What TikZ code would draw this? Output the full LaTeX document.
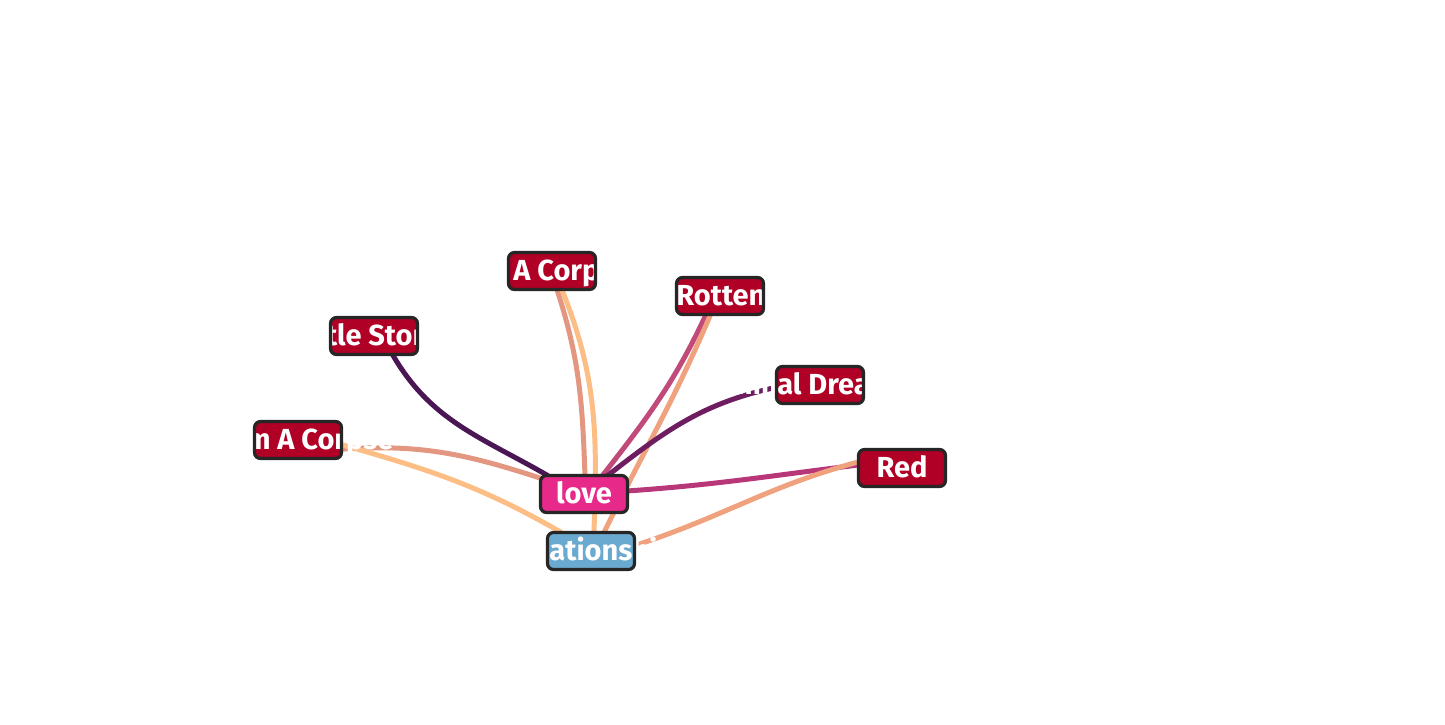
\documentclass[tikz,border=0pt]{standalone}
\usepackage{fontspec}
\setmainfont{Fira Sans}
\usetikzlibrary{backgrounds}
\definecolor{songRed}{RGB}{177, 0, 38}
\definecolor{lovePink}{RGB}{231, 41, 138}
\definecolor{relBlue}{RGB}{107, 170, 208}
\definecolor{boxLine}{RGB}{38, 38, 38}
\definecolor{darkPlum}{RGB}{74, 22, 84}
\definecolor{plum}{RGB}{110, 30, 96}
\definecolor{mauve}{RGB}{192, 74, 122}
\definecolor{berry}{RGB}{183, 55, 121}
\definecolor{salmon}{RGB}{227, 150, 128}
\definecolor{peach}{RGB}{253, 190, 133}
\definecolor{apricot}{RGB}{240, 161, 125}

\begin{document}
\begin{tikzpicture}[x=0.5pt, y=-0.5pt,
		songbox/.style={rectangle, rounded corners=3pt, minimum width=43.5pt, minimum height=18.5pt, inner sep=0pt, outer sep=0pt, fill=songRed},
		lbl/.style={text=white, font=\bfseries\fontsize{14.5}{16}\selectfont, inner sep=0pt, anchor=base, yshift=-4.9pt},
		boxline/.style={draw=boxLine, line width=1.6pt, rounded corners=3pt},
		link/.style={line width=2.5pt, line cap=round}]
			\useasboundingbox (0,0) rectangle (1445,724);

			\draw (552,271) node[songbox] (corp1) {};
			\draw (374,336) node[songbox] (story) {};
			\draw (298,440) node[songbox] (corp2) {};
			\draw (720,296) node[songbox] (rotten) {};
			\draw (820,385) node[songbox] (animal) {};
			\draw (902,468) node[songbox] (red) {};
			\draw (584,494) node[songbox, fill=lovePink] (love) {};
			\draw (591,551) node[songbox, fill=relBlue] (rel) {};

			\begin{pgfonlayer}{background}
			\path[link]
			(story.-45) edge[darkPlum, out=-60, in=150] (love.153)
			(corp2.-12) edge[salmon, out=4, in=162] (love.160)
			(corp2.-6) edge[peach, out=-16, in=150] (rel.148)
			(corp1.-75) edge[salmon, out=-72, in=92] (love.87)
			(corp1.-62) edge[peach, out=-68, in=88] (rel.81)
			(rotten.-127) edge[mauve, out=-115, in=52] (love.45)
			(rotten.-117) edge[apricot, out=-113, in=64] (rel.55)
			(love.38) edge[plum, out=38, in=192] (animal.183)
			(love.4) edge[berry, out=4, in=187] (red.176)
			(rel.7) edge[apricot, out=18, in=195] (red.172)
			;
			\end{pgfonlayer}

			% labels run past their boxes
			\node[lbl, anchor=base west] at (513,271) {A Corpse};
			\node[lbl, anchor=base west] at (368,336) {\llap{A Little }Story};
			\node[lbl, anchor=base west] at (277,440) {\llap{From }A Corpse};
			\node[lbl, anchor=base west] at (676,296) {Rotten};
			\node[lbl, anchor=base west] at (808,385) {\llap{Animal }Dreams};
			\node[lbl] at (red) {Red};
			\node[lbl] at (love) {love};
			\node[lbl, anchor=base west] at (549,551) {\llap{Rel}ationship};

			\foreach \n in {corp1,story,corp2,rotten,animal,red,love,rel}
				\draw[boxline] (\n.south west) rectangle (\n.north east);
		\end{tikzpicture}
\end{document}
